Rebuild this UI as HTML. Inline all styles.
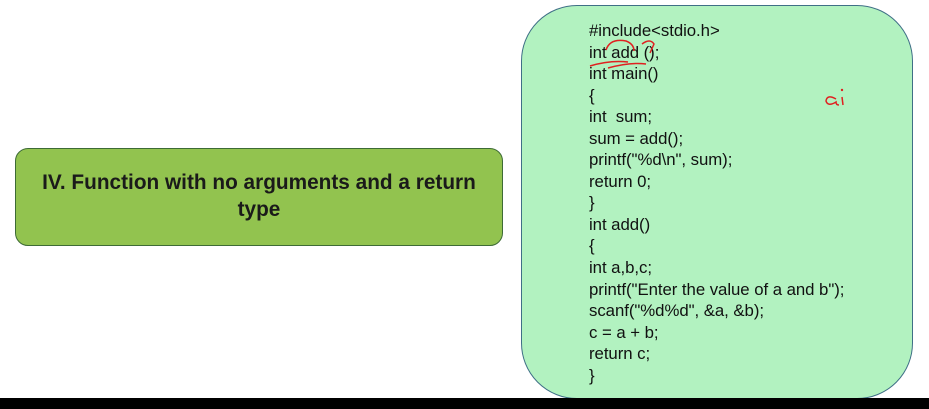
<!DOCTYPE html>
<html><head><style>
body{margin:0;width:929px;height:409px;background:#fff;position:relative;overflow:hidden;font-family:"Liberation Sans",sans-serif}
.g{position:absolute;left:15px;top:148px;width:488px;height:98px;background:#92c34f;border:1px solid #3d6b35;border-radius:13px;box-sizing:border-box;display:flex;align-items:center;justify-content:center;text-align:center;font-weight:bold;font-size:20.8px;line-height:27px;color:#1a1a1a;padding-bottom:2px}
.c{position:absolute;left:521px;top:5px;width:392px;height:394px;background:#b2f2c0;border:1.5px solid #3f6f86;border-radius:56px;box-sizing:border-box}
.t{position:absolute;left:589px;top:20px;font-size:16.8px;line-height:21.55px;color:#111;white-space:pre;letter-spacing:-0.05px}
.bar{position:absolute;left:0;top:398px;width:929px;height:11px;background:#000}
</style></head><body>
<div class="g">IV. Function with no arguments and a return<br>type</div>
<div class="c"></div>
<div class="t">#include&lt;stdio.h&gt;
int add ();
int main()
{
int  sum;
sum = add();
printf("%d\n", sum);
return 0;
}
int add()
{
int a,b,c;
printf("Enter the value of a and b");
scanf("%d%d", &amp;a, &amp;b);
c = a + b;
return c;
}</div>
<svg style="position:absolute;left:0;top:0" width="929" height="409">
<g fill="none" stroke="#e02020" stroke-width="1.5">
<path d="M606 50 Q610 38 626 41 Q634 44 634 51"/>
<path d="M642 44 Q650 38 654 44 L650 53"/>
<path d="M590 66 Q610 60 628 62"/>
<path d="M608 68 Q630 62 646 64"/>
<path d="M836 99 Q827 94 826 101 Q828 107 836 102 Q836 105 839 105 M842 97 L843 105"/>
</g>
<circle cx="842" cy="90" r="1.2" fill="#e02020"/>
</svg>
<div class="bar"></div>
</body></html>
